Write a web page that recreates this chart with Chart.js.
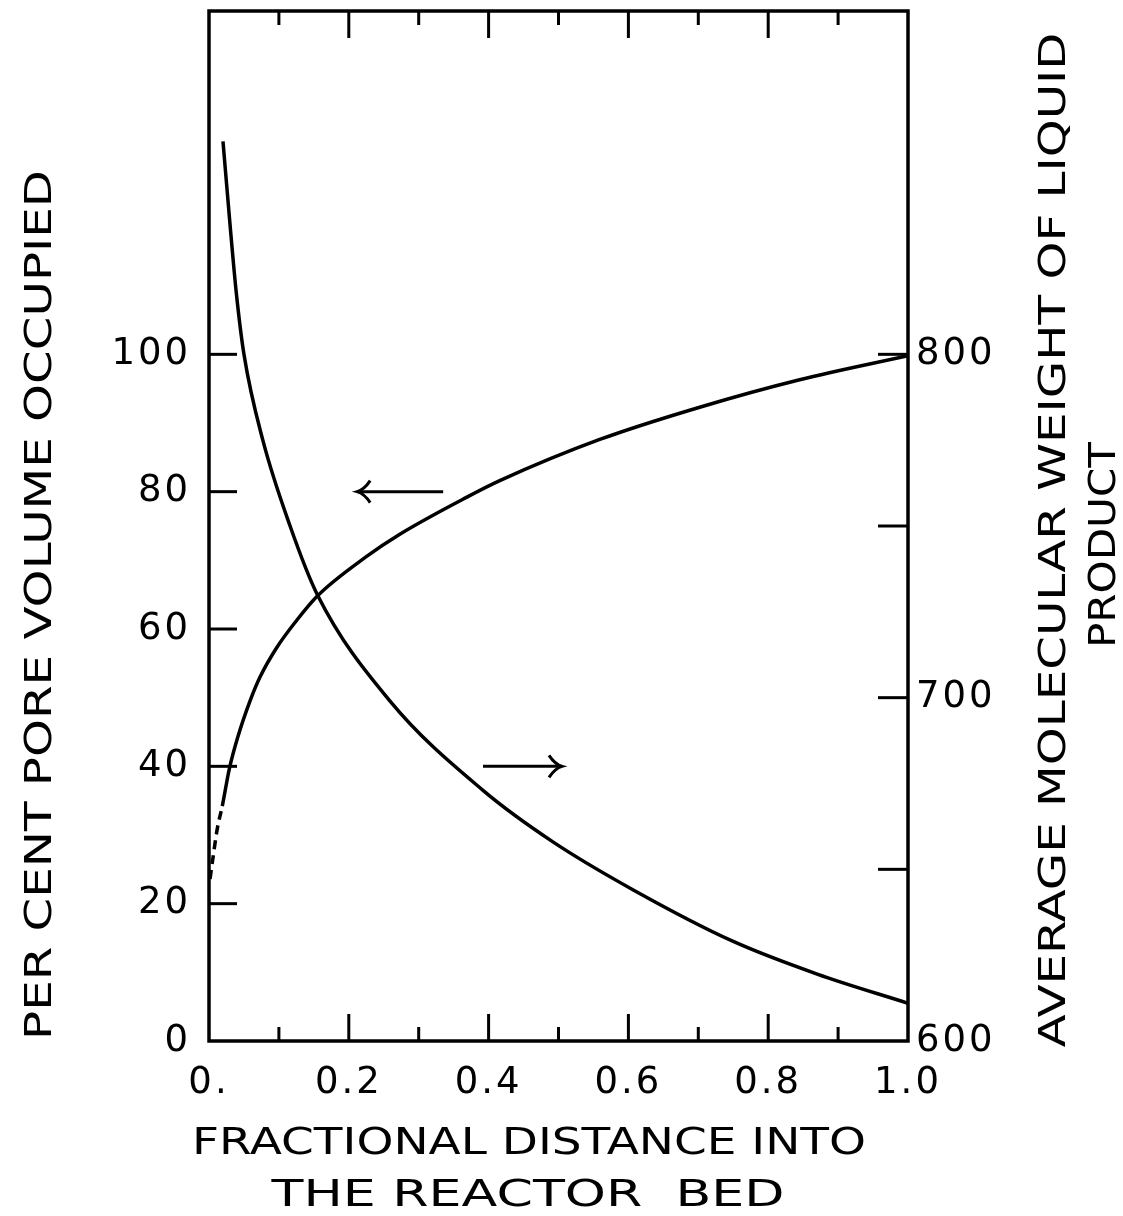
<!DOCTYPE html>
<html>
<head>
<meta charset="utf-8">
<title>Pore volume and molecular weight vs distance into reactor bed</title>
<script src="https://cdn.jsdelivr.net/npm/chart.js@4.4.1/dist/chart.umd.min.js"></script>
<style>
  html, body { margin: 0; padding: 0; background: #fff; }
  #wrap { width: 1123px; height: 1216px; }
</style>
</head>
<body>
<div id="wrap"><canvas id="chart" width="1123" height="1216"></canvas></div>
<script>
// pore volume curve (left axis), first 4 points drawn dashed
const poreDist = [0.0015, 0.006, 0.012, 0.019, 0.029, 0.041, 0.059, 0.073, 0.097, 0.125, 0.155, 0.226, 0.273, 0.369, 0.416, 0.559, 0.702, 0.845, 1.0];
const porePct  = [23.6, 26.9, 31.0, 34.2, 39.6, 44.2, 49.6, 53.0, 57.3, 61.2, 64.8, 70.6, 73.8, 79.2, 81.6, 87.6, 92.3, 96.3, 99.8];
const DASHED_UNTIL = 3;

// molecular weight curve (right axis)
const molDist   = [0.020, 0.030, 0.039, 0.050, 0.077, 0.116, 0.155, 0.259, 0.392, 0.492, 0.607, 0.750, 0.870, 1.0];
const molWeight = [862, 838, 818, 800, 775, 750, 730, 699, 673, 658, 644, 629, 619.5, 611];

// axes
const xLabelValues = [0, 0.2, 0.4, 0.6, 0.8, 1.0];
const xLabels = ['0.', '0.2', '0.4', '0.6', '0.8', '1.0'];
const xMajorMarks = [0.2, 0.4, 0.6, 0.8];
const xMinorMarks = [0.1, 0.3, 0.5, 0.7, 0.9];
const leftTicks = [0, 20, 40, 60, 80, 100];
const leftMarks = [20, 40, 60, 80, 100];
const rightTicks = [600, 700, 800];
const rightMarks = [650, 700, 750, 800];

// arrows: [x from, x to, y on left scale]
const arrowLeft = [0.212, 0.335, 80];
const arrowRight = [0.392, 0.505, 40];

const INK = '#000';
const FONT = '"DejaVu Sans", sans-serif';

function fitText(ctx, text, cx, cy, len, size, angle) {
  ctx.save();
  ctx.translate(cx, cy);
  ctx.rotate(angle);
  ctx.font = `${size}px ${FONT}`;
  const w = ctx.measureText(text).width;
  ctx.scale(len / w, 1);
  ctx.textAlign = 'center';
  ctx.textBaseline = 'alphabetic';
  ctx.fillStyle = INK;
  ctx.fillText(text, 0, size * 0.365);
  ctx.restore();
}

function arrowHead(ctx, x, y, dir) {
  ctx.beginPath();
  ctx.moveTo(x - dir * 13, y - 11);
  ctx.quadraticCurveTo(x - dir * 7, y - 2, x, y);
  ctx.quadraticCurveTo(x - dir * 7, y + 2, x - dir * 13, y + 11);
  ctx.stroke();
}

function noPad(s) {
  s.paddingTop = 0; s.paddingBottom = 0;
  s.paddingLeft = 0; s.paddingRight = 0;
}

const decor = {
  id: 'decor',
  beforeDraw(chart) {
    chart.ctx.letterSpacing = '3px';
  },
  afterDatasetsDraw(chart) {
    const { ctx, chartArea: a, scales } = chart;
    const x = scales.x, y = scales.y, y2 = scales.y2;
    ctx.save();
    ctx.strokeStyle = INK;
    ctx.lineCap = 'butt';

    // frame
    ctx.lineWidth = 3.5;
    ctx.strokeRect(a.left, a.top, a.right - a.left, a.bottom - a.top);

    // x ticks, bottom and top, pointing inward
    ctx.lineWidth = 3;
    const xm = (vals, len) => vals.forEach(v => {
      const px = x.getPixelForValue(v);
      ctx.beginPath();
      ctx.moveTo(px, a.bottom); ctx.lineTo(px, a.bottom - len);
      ctx.moveTo(px, a.top); ctx.lineTo(px, a.top + len);
      ctx.stroke();
    });
    xm(xMajorMarks, 27);
    xm(xMinorMarks, 14);

    leftMarks.forEach(v => {
      const py = y.getPixelForValue(v);
      ctx.beginPath();
      ctx.moveTo(a.left, py); ctx.lineTo(a.left + 28, py);
      ctx.stroke();
    });
    rightMarks.forEach(v => {
      const py = y2.getPixelForValue(v);
      ctx.beginPath();
      ctx.moveTo(a.right, py); ctx.lineTo(a.right - 30, py);
      ctx.stroke();
    });

    // arrows pointing to the axis each curve belongs to
    ctx.lineWidth = 3;
    const al = [x.getPixelForValue(arrowLeft[0]), x.getPixelForValue(arrowLeft[1]), y.getPixelForValue(arrowLeft[2])];
    ctx.beginPath(); ctx.moveTo(al[0], al[2]); ctx.lineTo(al[1], al[2]); ctx.stroke();
    arrowHead(ctx, al[0], al[2], -1);
    const ar = [x.getPixelForValue(arrowRight[0]), x.getPixelForValue(arrowRight[1]), y.getPixelForValue(arrowRight[2])];
    ctx.beginPath(); ctx.moveTo(ar[0], ar[2]); ctx.lineTo(ar[1], ar[2]); ctx.stroke();
    arrowHead(ctx, ar[1], ar[2], 1);
    ctx.restore();
  },
  afterDraw(chart) {
    const ctx = chart.ctx;
    ctx.save();
    ctx.letterSpacing = '0px';
    fitText(ctx, 'PER CENT PORE VOLUME OCCUPIED', 37, 605, 870, 38, -Math.PI / 2);
    fitText(ctx, 'AVERAGE MOLECULAR WEIGHT OF LIQUID', 1051, 540, 1015, 38, -Math.PI / 2);
    fitText(ctx, 'PRODUCT', 1101, 545, 206, 38, -Math.PI / 2);
    fitText(ctx, 'FRACTIONAL DISTANCE INTO', 529, 1140, 674, 38, 0);
    fitText(ctx, 'THE REACTOR  BED', 528, 1192, 513, 38, 0);
    ctx.restore();
  }
};

const tickFont = { family: FONT, size: 37 };

new Chart(document.getElementById('chart'), {
  type: 'line',
  data: {
    datasets: [
      {
        label: 'Per cent pore volume occupied',
        data: poreDist.map((d, i) => ({ x: d, y: porePct[i] })),
        yAxisID: 'y',
        borderColor: INK,
        borderWidth: 3.5,
        pointRadius: 0,
        cubicInterpolationMode: 'monotone',
        segment: { borderDash: c => c.p1DataIndex <= DASHED_UNTIL ? [9, 6] : undefined }
      },
      {
        label: 'Average molecular weight of liquid product',
        data: molDist.map((d, i) => ({ x: d, y: molWeight[i] })),
        yAxisID: 'y2',
        borderColor: INK,
        borderWidth: 3.5,
        pointRadius: 0,
        cubicInterpolationMode: 'monotone'
      }
    ]
  },
  options: {
    responsive: false,
    animation: false,
    events: [],
    layout: { padding: { top: 11, left: 0, right: 0, bottom: 0 } },
    plugins: { legend: { display: false }, tooltip: { enabled: false } },
    scales: {
      x: {
        type: 'linear',
        position: 'bottom',
        min: 0, max: 1,
        afterBuildTicks: s => { s.ticks = xLabelValues.map(v => ({ value: v })); },
        afterFit: s => { s.height = 175; noPad(s); },
        grid: { display: false },
        border: { display: false },
        ticks: {
          color: INK, font: tickFont, padding: 12, maxRotation: 0, autoSkip: false,
          callback: v => xLabels[xLabelValues.findIndex(t => Math.abs(t - v) < 1e-6)]
        }
      },
      y: {
        position: 'left',
        min: 0, max: 150,
        afterBuildTicks: s => { s.ticks = leftTicks.map(v => ({ value: v })); },
        afterFit: s => { s.width = 209; noPad(s); },
        grid: { display: false },
        border: { display: false },
        ticks: { color: INK, font: tickFont, padding: 10 }
      },
      y2: {
        position: 'right',
        min: 600, max: 900,
        afterBuildTicks: s => { s.ticks = rightTicks.map(v => ({ value: v })); },
        afterFit: s => { s.width = 215; noPad(s); },
        grid: { display: false },
        border: { display: false },
        ticks: { color: INK, font: tickFont, padding: 0 }
      }
    }
  },
  plugins: [decor]
});
</script>
</body>
</html>
